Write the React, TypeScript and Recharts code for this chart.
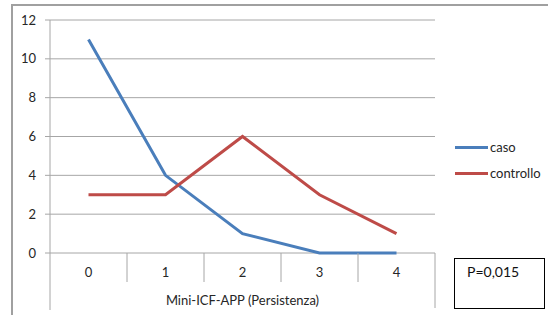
import React from "react";
import { LineChart, Line, XAxis, YAxis, CartesianGrid, Legend } from "recharts";

const categories = ["0", "1", "2", "3", "4"];
const caso = [11, 4, 1, 0, 0];
const controllo = [3, 3, 6, 3, 1];
const yTicks = [0, 2, 4, 6, 8, 10, 12];
const seriesNames = ["caso", "controllo"];
const seriesColors = ["#4a7ebb", "#be4b48"];
const pValue = "P=0,015";
const xTitle = "Mini-ICF-APP (Persistenza)";

const data = categories.map((c, i) => ({ cat: c, caso: caso[i], controllo: controllo[i] }));

const W = 548;
const H = 315;
const margin = { top: 20, right: 113, bottom: 0, left: 10 };
const yAxisWidth = 40;
const xAxisHeight = 62;
const plotLeft = margin.left + yAxisWidth;
const plotRight = W - margin.right;
const plotBottom = H - margin.bottom - xAxisHeight;
const step = (plotRight - plotLeft) / categories.length;

const FONT = "Lato, 'Open Sans', sans-serif";
const GRID = "#a6a6a6";

// category label plus the Excel-style divider lines under the axis
function CategoryTick(props: any) {
  const { x, index, payload } = props;
  const last = categories.length - 1;
  return (
    <g>
      <text x={x} y={plotBottom + 24} textAnchor="middle" fill="#262626" fontSize={13} fontFamily={FONT}>
        {payload.value}
      </text>
      {index > 0 && (
        <line x1={x - step / 2} y1={plotBottom} x2={x - step / 2} y2={plotBottom + 29} stroke={GRID} />
      )}
      {index === 0 && (
        <line x1={x - step / 2} y1={plotBottom} x2={x - step / 2} y2={plotBottom + 57} stroke={GRID} />
      )}
      {index === last && (
        <line x1={x + step / 2} y1={plotBottom} x2={x + step / 2} y2={plotBottom + 55} stroke={GRID} />
      )}
    </g>
  );
}

function LegendContent(props: any) {
  const { payload } = props;
  return (
    <div style={{ fontFamily: FONT, fontSize: 13, color: "#262626" }}>
      {(payload || []).map((p: any) => (
        <div key={p.value} style={{ display: "flex", alignItems: "center", height: 26 }}>
          <span style={{ display: "inline-block", width: 33, height: 3, background: p.color, marginRight: 2 }} />
          <span>{p.value}</span>
        </div>
      ))}
    </div>
  );
}

export default function App() {
  return (
    <div style={{ position: "absolute", left: 0, top: 0, width: W, height: H, background: "#fff", overflow: "hidden" }}>
      <div
        style={{
          position: "absolute",
          left: 11,
          top: 4,
          width: W,
          height: H,
          borderLeft: "2px solid #a0a0a0",
          borderTop: "2px solid #a0a0a0",
        }}
      />
      <LineChart width={W} height={H} data={data} margin={margin} style={{ fontFamily: FONT }}>
        <CartesianGrid vertical={false} stroke={GRID} />
        <XAxis
          dataKey="cat"
          height={xAxisHeight}
          axisLine={false}
          tickLine={false}
          padding={{ left: step / 2, right: step / 2 }}
          tick={<CategoryTick />}
          interval={0}
          label={{ value: xTitle, position: "insideBottom", offset: 10, fill: "#262626", fontSize: 13, fontFamily: FONT }}
        />
        <YAxis
          width={yAxisWidth}
          domain={[0, 12]}
          ticks={yTicks}
          interval={0}
          axisLine={{ stroke: GRID }}
          tickLine={{ stroke: GRID }}
          tickSize={5}
          tickMargin={9}
          tick={{ fill: "#262626", fontSize: 13, fontFamily: FONT }}
        />
        <Legend
          layout="horizontal"
          verticalAlign="middle"
          align="center"
          content={<LegendContent />}
          wrapperStyle={{ left: 455, top: 134, width: 90 }}
        />
        {seriesNames.map((name, i) => (
          <Line
            key={name}
            type="linear"
            dataKey={name}
            name={name}
            stroke={seriesColors[i]}
            strokeWidth={3}
            dot={false}
            activeDot={false}
            isAnimationActive={false}
          />
        ))}
      </LineChart>
      <div
        style={{
          position: "absolute",
          left: 454,
          top: 258,
          width: 91,
          height: 51,
          boxSizing: "border-box",
          border: "1px solid #000",
          fontFamily: FONT,
          fontSize: 14,
          color: "#111",
          paddingLeft: 12,
          paddingTop: 4,
        }}
      >
        {pValue}
      </div>
    </div>
  );
}
